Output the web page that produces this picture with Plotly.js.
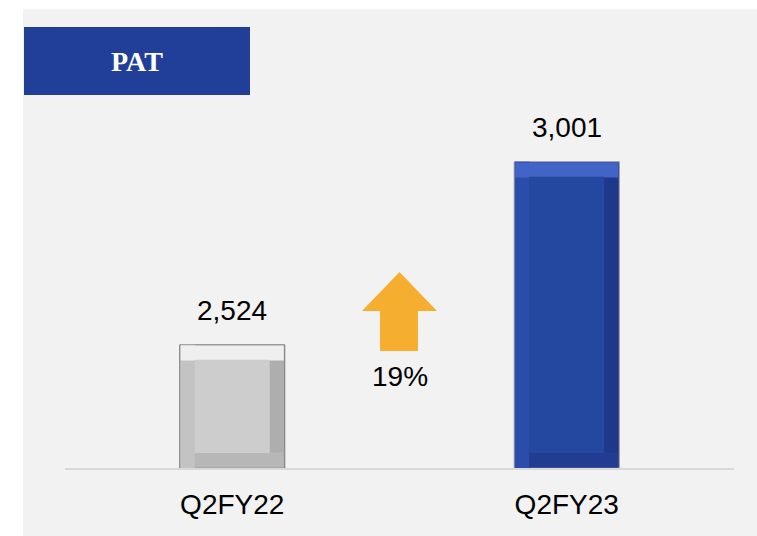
<!DOCTYPE html>
<html><head><meta charset="utf-8">
<script src="https://cdn.plot.ly/plotly-3.0.1.min.js"></script>
<style>
html,body{margin:0;padding:0;background:#ffffff;width:757px;height:536px;overflow:hidden;}
#chart{position:absolute;left:23px;top:9px;width:734px;height:527px;}
</style></head>
<body><div id="chart"></div>
<script>
// ---- data ----
var categories = ["Q2FY22", "Q2FY23"];
var values = [2524, 3001];
var valueLabels = ["2,524", "3,001"];
var chartTitle = "PAT";

// ---- styles ----
var faceColors   = ["#cdcdcd", "#2447a0"];
var topColors    = ["#efefef", "#4264c6"];
var leftColors   = ["#c3c3c3", "#2a4dac"];
var rightColors  = ["#aeaeae", "#1f3889"];
var bottomColors = ["#b7b7b7", "#213c90"];
var outlineColors= ["#7a7a7a", "#9a9ca4"];

var W = 0.314;        // bar width (category units)
var floorVal = 2203;  // axis floor
var yTop = 3162;
var plotW = 669, plotH = 368;
var bevPx = 15;
var bx = bevPx / plotW * 2;
var by = bevPx / plotH * (yTop - floorVal);

function arr(v){ return categories.map(function(){ return v; }); }

var traces = [];
// full bar (right shade)
traces.push({type:'bar', x:categories, y:values.map(function(v){return v-floorVal;}), base:arr(floorVal),
  width:arr(W), offset:arr(-W/2), marker:{color:rightColors, line:{color:outlineColors, width:1}}, hoverinfo:'skip'});
// left strip
traces.push({type:'bar', x:categories, y:values.map(function(v){return v-floorVal;}), base:arr(floorVal),
  width:arr(bx), offset:arr(-W/2+0.002), marker:{color:leftColors, line:{width:0}}, hoverinfo:'skip'});
// bottom strip
traces.push({type:'bar', x:categories, y:arr(by), base:arr(floorVal+1),
  width:arr(W-bx-0.004), offset:arr(-W/2+bx), marker:{color:bottomColors, line:{width:0}}, hoverinfo:'skip'});
// top strip
traces.push({type:'bar', x:categories, y:arr(by), base:values.map(function(v){return v-by-2;}),
  width:arr(W-0.006), offset:arr(-W/2+0.003), marker:{color:topColors, line:{width:0}}, hoverinfo:'skip'});
// face
traces.push({type:'bar', x:categories, y:values.map(function(v){return v-floorVal-2*by;}), base:arr(floorVal+by),
  width:arr(W-2*bx), offset:arr(-W/2+bx), marker:{color:faceColors, line:{width:0}}, hoverinfo:'skip'});

var pct = Math.round((values[1]-values[0])/values[0]*100) + "%";

// helpers pixel (div coords) -> paper
var mL = 42, mT = 91;
function px(x){ return (x - mL) / plotW; }
function py(y){ return (mT + plotH - y) / plotH; }

// arrow path (div pixel coords)
var ap = [[376.5,263],[414,302],[395,302],[395,342],[357,342],[357,302],[339,302]];
var path = "M" + ap.map(function(p){ return px(p[0]) + "," + py(p[1]); }).join(" L") + " Z";

var annotations = categories.map(function(c,i){
  return {x:c, y:values[i], xref:'x', yref:'y', text:valueLabels[i], showarrow:false,
    yanchor:'middle', yshift:34, font:{family:'Liberation Sans, Arial', size:28, color:'#000'}};
});
annotations.push({x:0.5, y:py(367), xref:'paper', yref:'paper', text:pct, showarrow:false,
  yanchor:'middle', xanchor:'center', font:{family:'Liberation Sans, Arial', size:28, color:'#000'}});
annotations.push({x:px(114), y:py(52), xref:'paper', yref:'paper', text:'<b>'+chartTitle+'</b>', showarrow:false,
  yanchor:'middle', xanchor:'center', font:{family:'Liberation Serif, DejaVu Serif, serif', size:28, color:'#ffffff'}});

var layout = {
  width:734, height:527,
  margin:{l:mL, r:23, t:mT, b:68, pad:0},
  paper_bgcolor:'#f2f2f2', plot_bgcolor:'rgba(0,0,0,0)',
  barmode:'overlay', showlegend:false,
  xaxis:{type:'category', showgrid:false, zeroline:false, showline:true, linecolor:'#d9d9d9', linewidth:2,
    ticks:'', ticklabelstandoff:10, tickfont:{family:'Liberation Sans, Arial', size:28, color:'#000'}, fixedrange:true},
  yaxis:{range:[floorVal, yTop], visible:false, fixedrange:true},
  shapes:[
    {type:'rect', xref:'paper', yref:'paper', x0:px(1), x1:px(227), y0:py(86), y1:py(18),
      fillcolor:'#213f98', line:{width:0}, layer:'above'},
    {type:'path', xref:'paper', yref:'paper', path:path, fillcolor:'#f5ae2f', line:{width:0}, layer:'above'}
  ],
  annotations:annotations
};
Plotly.newPlot('chart', traces, layout, {displayModeBar:false, staticPlot:true});
</script></body></html>
